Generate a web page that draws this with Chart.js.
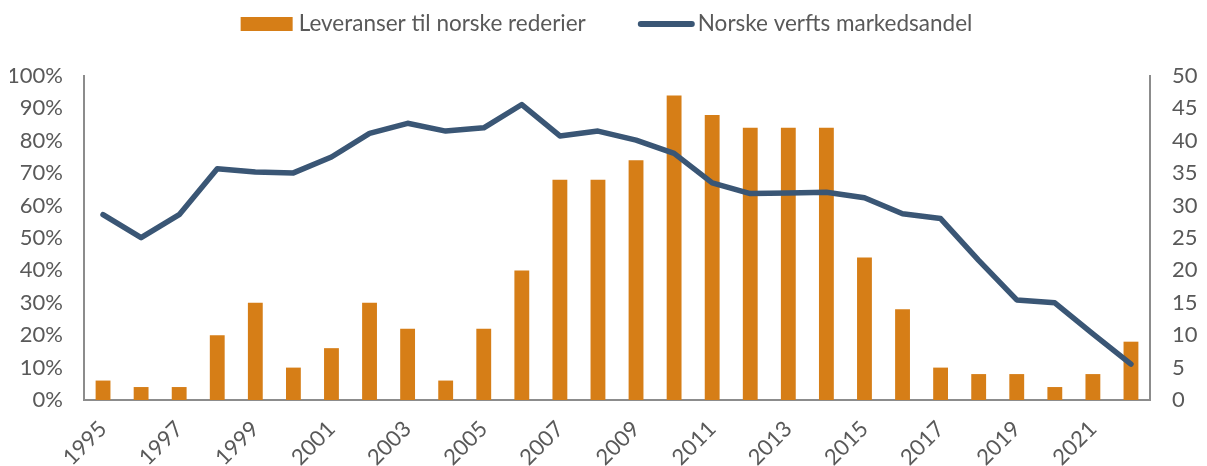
<!DOCTYPE html>
<html>
<head>
<meta charset="utf-8">
<script src="https://cdn.jsdelivr.net/npm/chart.js@4.4.1/dist/chart.umd.min.js"></script>
<style>
  html, body { margin: 0; padding: 0; background: #fff; }
  #wrap { width: 1207px; height: 466px; position: relative; }
</style>
</head>
<body>
<div id="wrap"><canvas id="chart"></canvas></div>
<script>
// Årstall på x-aksen
const years = [
  "1995", "1996", "1997", "1998", "1999", "2000", "2001", "2002", "2003", "2004",
  "2005", "2006", "2007", "2008", "2009", "2010", "2011", "2012", "2013", "2014",
  "2015", "2016", "2017", "2018", "2019", "2020", "2021", "2022"
];
// Leveranser til norske rederier (høyre akse, antall)
const deliveries = [
  3, 2, 2, 10, 15, 5, 8, 15, 11, 3,
  11, 20, 34, 34, 37, 47, 44, 42, 42, 42,
  22, 14, 5, 4, 4, 2, 4, 9
];
// Norske verfts markedsandel (venstre akse, prosent)
const marketShare = [
  57.2, 50.1, 57.2, 71.4, 70.4, 70.1, 75.0, 82.3, 85.4, 83.0,
  84.0, 91.2, 81.5, 83.0, 80.2, 76.1, 67.0, 63.7, 63.9, 64.1,
  62.4, 57.5, 56.0, 43.1, 30.9, 30.0, 20.4, 11.1
];

const ORANGE = "#D67E17";
const NAVY = "#3A5675";
const GREY_TEXT = "#595959";
const AXIS_LINE = "#8C8C8C";
const FONT = "Lato, 'Open Sans', sans-serif";

// Egen forklaring øverst (stolpe = rektangel, linje = strek)
const topLegend = {
  id: "topLegend",
  afterDraw(chart) {
    const c = chart.ctx;
    const ds = chart.data.datasets;
    const cy = 24;
    c.save();
    c.font = "22.5px " + FONT;
    c.textBaseline = "middle";
    const w0 = c.measureText(ds[0].label).width;
    const w1 = c.measureText(ds[1].label).width;
    const total = 52 + 6 + w0 + 52 + 57 + 3 + w1;
    let x = chart.width / 2 - total / 2 + 3;
    // Stolpe
    c.fillStyle = ORANGE;
    c.fillRect(x, cy - 7, 52, 14);
    x += 52 + 6;
    c.fillStyle = GREY_TEXT;
    c.fillText(ds[0].label, x, cy);
    x += w0 + 52;
    // Linje
    c.strokeStyle = NAVY;
    c.lineWidth = 6;
    c.lineCap = "round";
    c.beginPath();
    c.moveTo(x + 3, cy);
    c.lineTo(x + 54, cy);
    c.stroke();
    x += 57 + 3;
    c.fillStyle = GREY_TEXT;
    c.fillText(ds[1].label, x, cy);
    c.restore();
  },
};

const ctx = document.getElementById("chart").getContext("2d");

new Chart(ctx, {
  data: {
    labels: years,
    datasets: [
      {
        type: "bar",
        label: "Leveranser til norske rederier",
        data: deliveries,
        backgroundColor: ORANGE,
        yAxisID: "yRight",
        barPercentage: 0.39,
        categoryPercentage: 1.0,
        order: 2,
      },
      {
        type: "line",
        label: "Norske verfts markedsandel",
        data: marketShare,
        borderColor: NAVY,
        backgroundColor: NAVY,
        borderWidth: 5.5,
        pointRadius: 0,
        tension: 0,
        borderCapStyle: "round",
        borderJoinStyle: "round",
        yAxisID: "yLeft",
        order: 1,
      },
    ],
  },
  plugins: [topLegend],
  options: {
    responsive: true,
    maintainAspectRatio: false,
    animation: false,
    layout: { padding: { left: 10, right: 10, top: 76, bottom: 0 } },
    plugins: {
      tooltip: { enabled: false },
      legend: { display: false },
    },
    scales: {
      x: {
        offset: true,
        grid: { display: false, drawTicks: false },
        border: { display: true, color: AXIS_LINE, width: 2 },
        afterFit: (scale) => {
          // ingen ekstra plass for skrå etiketter på sidene
          scale.paddingLeft = 0;
          scale.paddingRight = 0;
          scale.height = 66;
        },
        ticks: {
          color: GREY_TEXT,
          font: { family: FONT, size: 22 },
          autoSkip: false,
          maxRotation: 45,
          minRotation: 45,
          padding: 16,
          callback: function (value, index) {
            return index % 2 === 0 ? this.getLabelForValue(value) : "";
          },
        },
      },
      yLeft: {
        type: "linear",
        position: "left",
        min: 0,
        max: 100,
        grid: { display: false, drawTicks: false },
        border: { display: true, color: AXIS_LINE, width: 2 },
        afterFit: (scale) => {
          scale.width = 74;
        },
        ticks: {
          stepSize: 10,
          color: GREY_TEXT,
          font: { family: FONT, size: 22 },
          padding: 21,
          callback: (v) => v + "%",
        },
      },
      yRight: {
        type: "linear",
        position: "right",
        min: 0,
        max: 50,
        grid: { display: false, drawTicks: false },
        border: { display: true, color: AXIS_LINE, width: 2 },
        afterFit: (scale) => {
          scale.width = 47;
        },
        ticks: {
          stepSize: 5,
          color: GREY_TEXT,
          font: { family: FONT, size: 22 },
          padding: 22,
        },
      },
    },
  },
});
</script>
</body>
</html>
